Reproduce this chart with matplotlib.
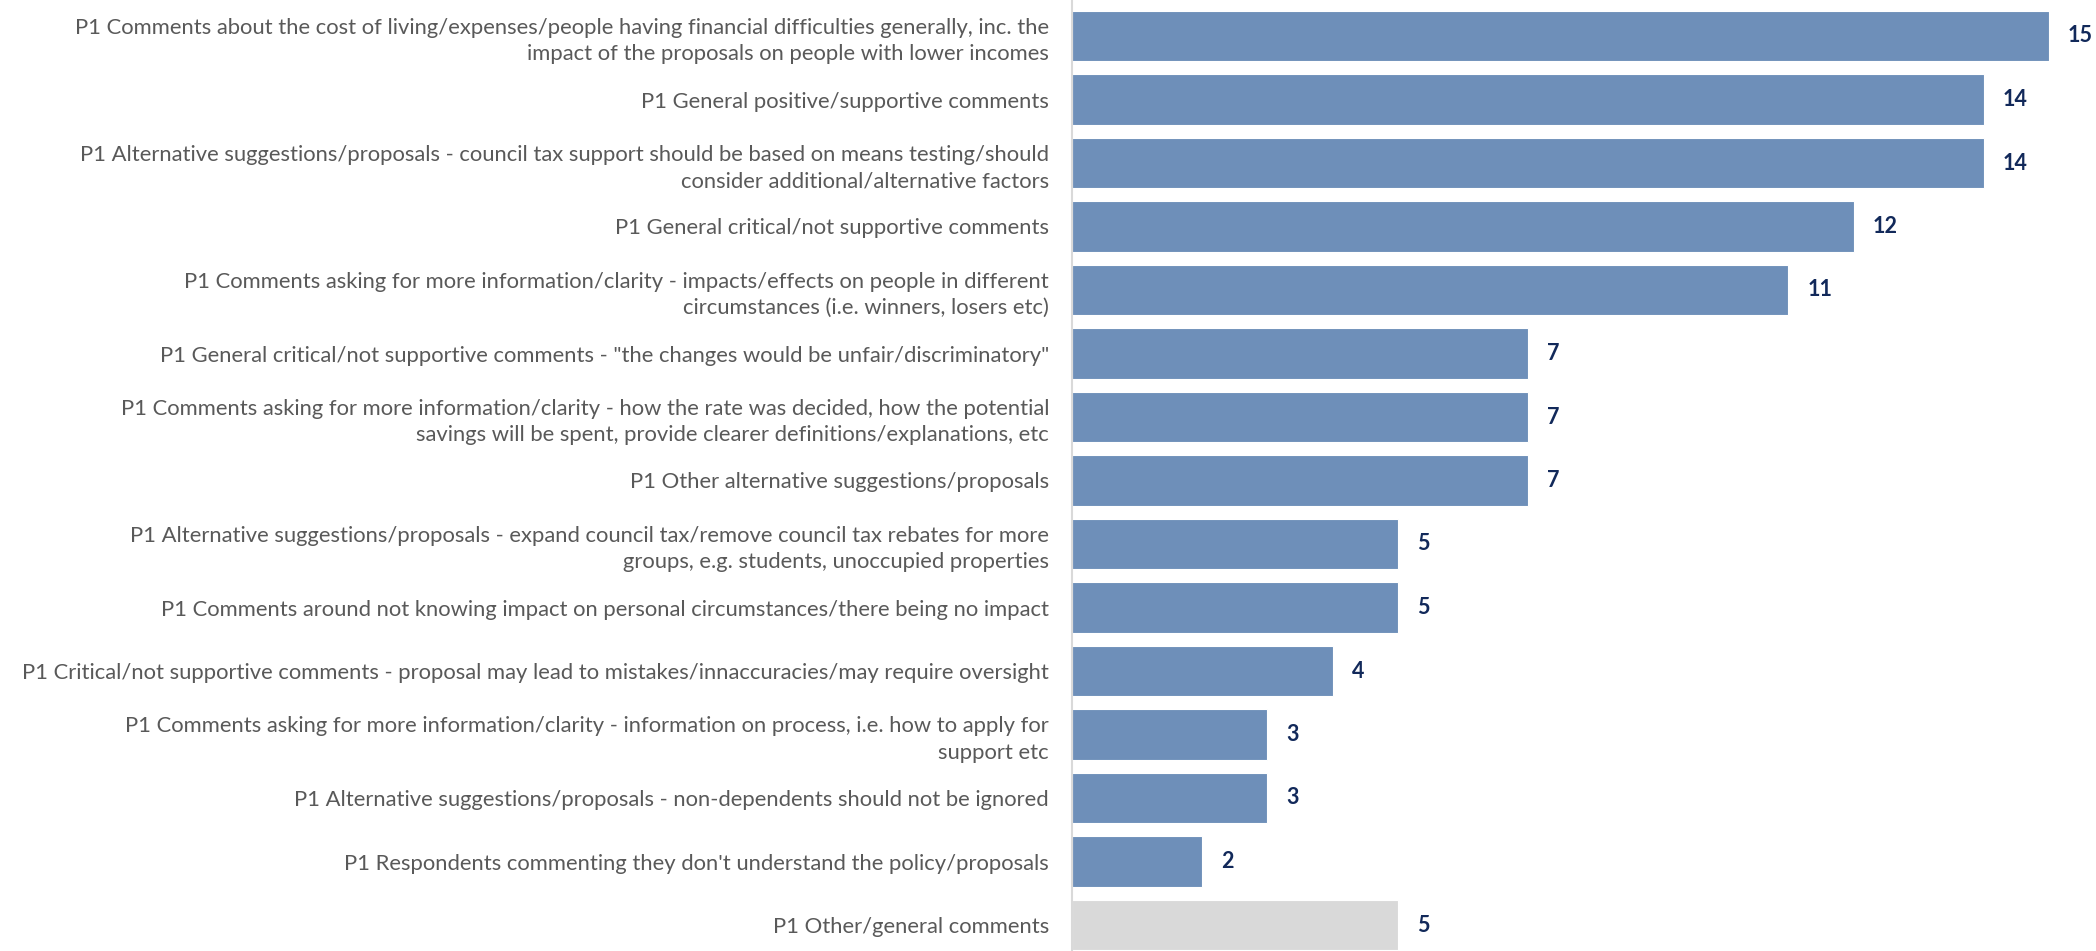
import matplotlib
matplotlib.use("Agg")
import matplotlib.pyplot as plt

categories = [
    "P1 Comments about the cost of living/expenses/people having financial difficulties generally, inc. the\nimpact of the proposals on people with lower incomes",
    "P1 General positive/supportive comments",
    "P1 Alternative suggestions/proposals - council tax support should be based on means testing/should\nconsider additional/alternative factors",
    "P1 General critical/not supportive comments",
    "P1 Comments asking for more information/clarity - impacts/effects on people in different\ncircumstances (i.e. winners, losers etc)",
    "P1 General critical/not supportive comments - \"the changes would be unfair/discriminatory\"",
    "P1 Comments asking for more information/clarity - how the rate was decided, how the potential\nsavings will be spent, provide clearer definitions/explanations, etc",
    "P1 Other alternative suggestions/proposals",
    "P1 Alternative suggestions/proposals - expand council tax/remove council tax rebates for more\ngroups, e.g. students, unoccupied properties",
    "P1 Comments around not knowing impact on personal circumstances/there being no impact",
    "P1 Critical/not supportive comments - proposal may lead to mistakes/innaccuracies/may require oversight",
    "P1 Comments asking for more information/clarity - information on process, i.e. how to apply for\nsupport etc",
    "P1 Alternative suggestions/proposals - non-dependents should not be ignored",
    "P1 Respondents commenting they don't understand the policy/proposals",
    "P1 Other/general comments",
]
values = [15, 14, 14, 12, 11, 7, 7, 7, 5, 5, 4, 3, 3, 2, 5]
is_other = [False] * 14 + [True]

plt.rcParams['font.family'] = ['Lato', 'DejaVu Sans']

W, H = 2096, 951
fig = plt.figure(figsize=(W / 100, H / 100), dpi=100)
ax_left = 1072 / W
ax_right = 2049 / W
ax = fig.add_axes([ax_left, 0, ax_right - ax_left, 1])

y = list(range(len(values)))
colors = ["#D9D9D9" if o else "#6E8FB9" for o in is_other]
ax.barh(y, values, height=0.79, color=colors, edgecolor="white", linewidth=0.8)

ax.set_xlim(0, 15)
ax.set_ylim((951 - 36) / 63.5, -36 / 63.5)

for yi, v in zip(y, values):
    ax.annotate(str(v), xy=(v, yi), xytext=(19, 0), textcoords="offset pixels",
                ha="left", va="center", fontsize=15.5, fontweight="bold",
                color="#12295A", annotation_clip=False)

ax.set_yticks(y)
ax.set_yticklabels(categories, fontsize=15.8, color="#595959", linespacing=1.38)
ax.tick_params(axis="y", length=0, pad=16.5)
ax.set_xticks([])

for s in ["top", "right", "bottom"]:
    ax.spines[s].set_visible(False)
ax.spines["left"].set_color("#D9D9D9")
ax.spines["left"].set_linewidth(1.5)

fig.savefig("out.png", dpi=100)
